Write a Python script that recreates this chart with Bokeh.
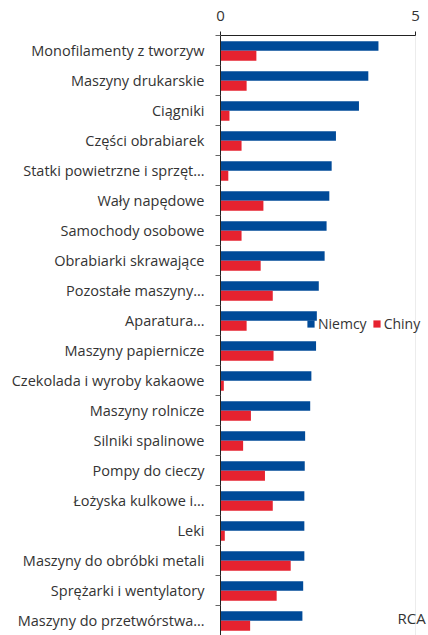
from bokeh.plotting import figure
from bokeh.models import Range1d, FixedTicker, Legend, LegendItem, Label
from bokeh.embed import file_html
from bokeh.resources import INLINE

categories = [
    "Monofilamenty z tworzyw",
    "Maszyny drukarskie",
    "Ciągniki",
    "Części obrabiarek",
    "Statki powietrzne i sprzęt…",
    "Wały napędowe",
    "Samochody osobowe",
    "Obrabiarki skrawające",
    "Pozostałe maszyny…",
    "Aparatura…",
    "Maszyny papiernicze",
    "Czekolada i wyroby kakaowe",
    "Maszyny rolnicze",
    "Silniki spalinowe",
    "Pompy do cieczy",
    "Łożyska kulkowe i…",
    "Leki",
    "Maszyny do obróbki metali",
    "Sprężarki i wentylatory",
    "Maszyny do przetwórstwa…",
]
niemcy = [4.05, 3.79, 3.55, 2.96, 2.85, 2.79, 2.72, 2.67, 2.52, 2.47,
          2.45, 2.33, 2.30, 2.17, 2.16, 2.15, 2.15, 2.15, 2.12, 2.10]
chiny = [0.92, 0.67, 0.23, 0.54, 0.20, 1.10, 0.54, 1.03, 1.34, 0.67,
         1.36, 0.085, 0.78, 0.58, 1.14, 1.34, 0.11, 1.80, 1.44, 0.76]
x_ticks = [0, 5]
series_names = ["Niemcy", "Chiny"]
axis_title = "RCA"

BLUE = "#004A98"
RED = "#E6222F"
FONT = "Open Sans"
TXT = "#333333"

n = len(categories)
idx = list(range(n))
blue_y = [i + 0.35 for i in idx]
red_y = [i + 0.675 for i in idx]

# frame spans 0..5.33 so that the legend and the RCA note (right of 5) are not clipped
p = figure(frame_width=208, frame_height=600, output_backend="svg", toolbar_location=None,
           x_range=Range1d(0, 5.333), y_range=Range1d(n, 0), x_axis_location="above")
p.min_border_left = 220
p.min_border_right = 0
p.min_border_top = 35
p.min_border_bottom = 0
p.outline_line_color = None
p.background_fill_color = "white"
p.border_fill_color = "white"

rb = p.hbar(y=blue_y, left=0, right=niemcy, height=0.32, fill_color=BLUE, line_color=None)
rr = p.hbar(y=red_y, left=0, right=chiny, height=0.33, fill_color=RED, line_color=None)

# x axis (top)
xa = p.xaxis[0]
xa.ticker = FixedTicker(ticks=x_ticks, minor_ticks=[])
xa.bounds = (x_ticks[0], x_ticks[-1])
xa.major_tick_out = 4
xa.major_tick_in = 0
xa.minor_tick_out = 0
xa.minor_tick_in = 0
xa.axis_line_color = "#222222"
xa.major_tick_line_color = "#222222"
xa.major_label_text_font = FONT
xa.major_label_text_font_size = "15px"
xa.major_label_text_color = TXT
xa.major_label_standoff = 11

# y axis
ya = p.yaxis[0]
centers = [i + 0.5 for i in idx]
ya.ticker = FixedTicker(ticks=centers, minor_ticks=idx + [n])
ya.major_label_overrides = {c: lab for c, lab in zip(centers, categories)}
ya.major_tick_out = 0
ya.major_tick_in = 0
ya.minor_tick_out = 5
ya.minor_tick_in = 0
ya.minor_tick_line_color = "#666666"
ya.axis_line_color = "#222222"
ya.major_label_text_font = FONT
ya.major_label_text_font_size = "14.5px"
ya.major_label_text_color = TXT
ya.major_label_standoff = 11

p.ygrid.visible = False
p.xgrid.ticker = FixedTicker(ticks=x_ticks[1:])
p.xgrid.grid_line_color = "#ececec"

legend = Legend(items=[LegendItem(label=series_names[0], renderers=[rb]),
                       LegendItem(label=series_names[1], renderers=[rr])],
                location=(86, 302), orientation="horizontal",
                glyph_width=9, glyph_height=9, label_standoff=3, spacing=5,
                padding=0, margin=0, background_fill_alpha=0, border_line_color=None,
                label_text_font=FONT, label_text_font_size="14px", label_text_color=TXT)
p.add_layout(legend, "center")

p.add_layout(Label(x=177, y=18, x_units="screen", y_units="screen", text=axis_title,
                   text_baseline="alphabetic",
                   text_font=FONT, text_font_size="15px", text_color=TXT))

open("out.html", "w").write(file_html(p, INLINE))
